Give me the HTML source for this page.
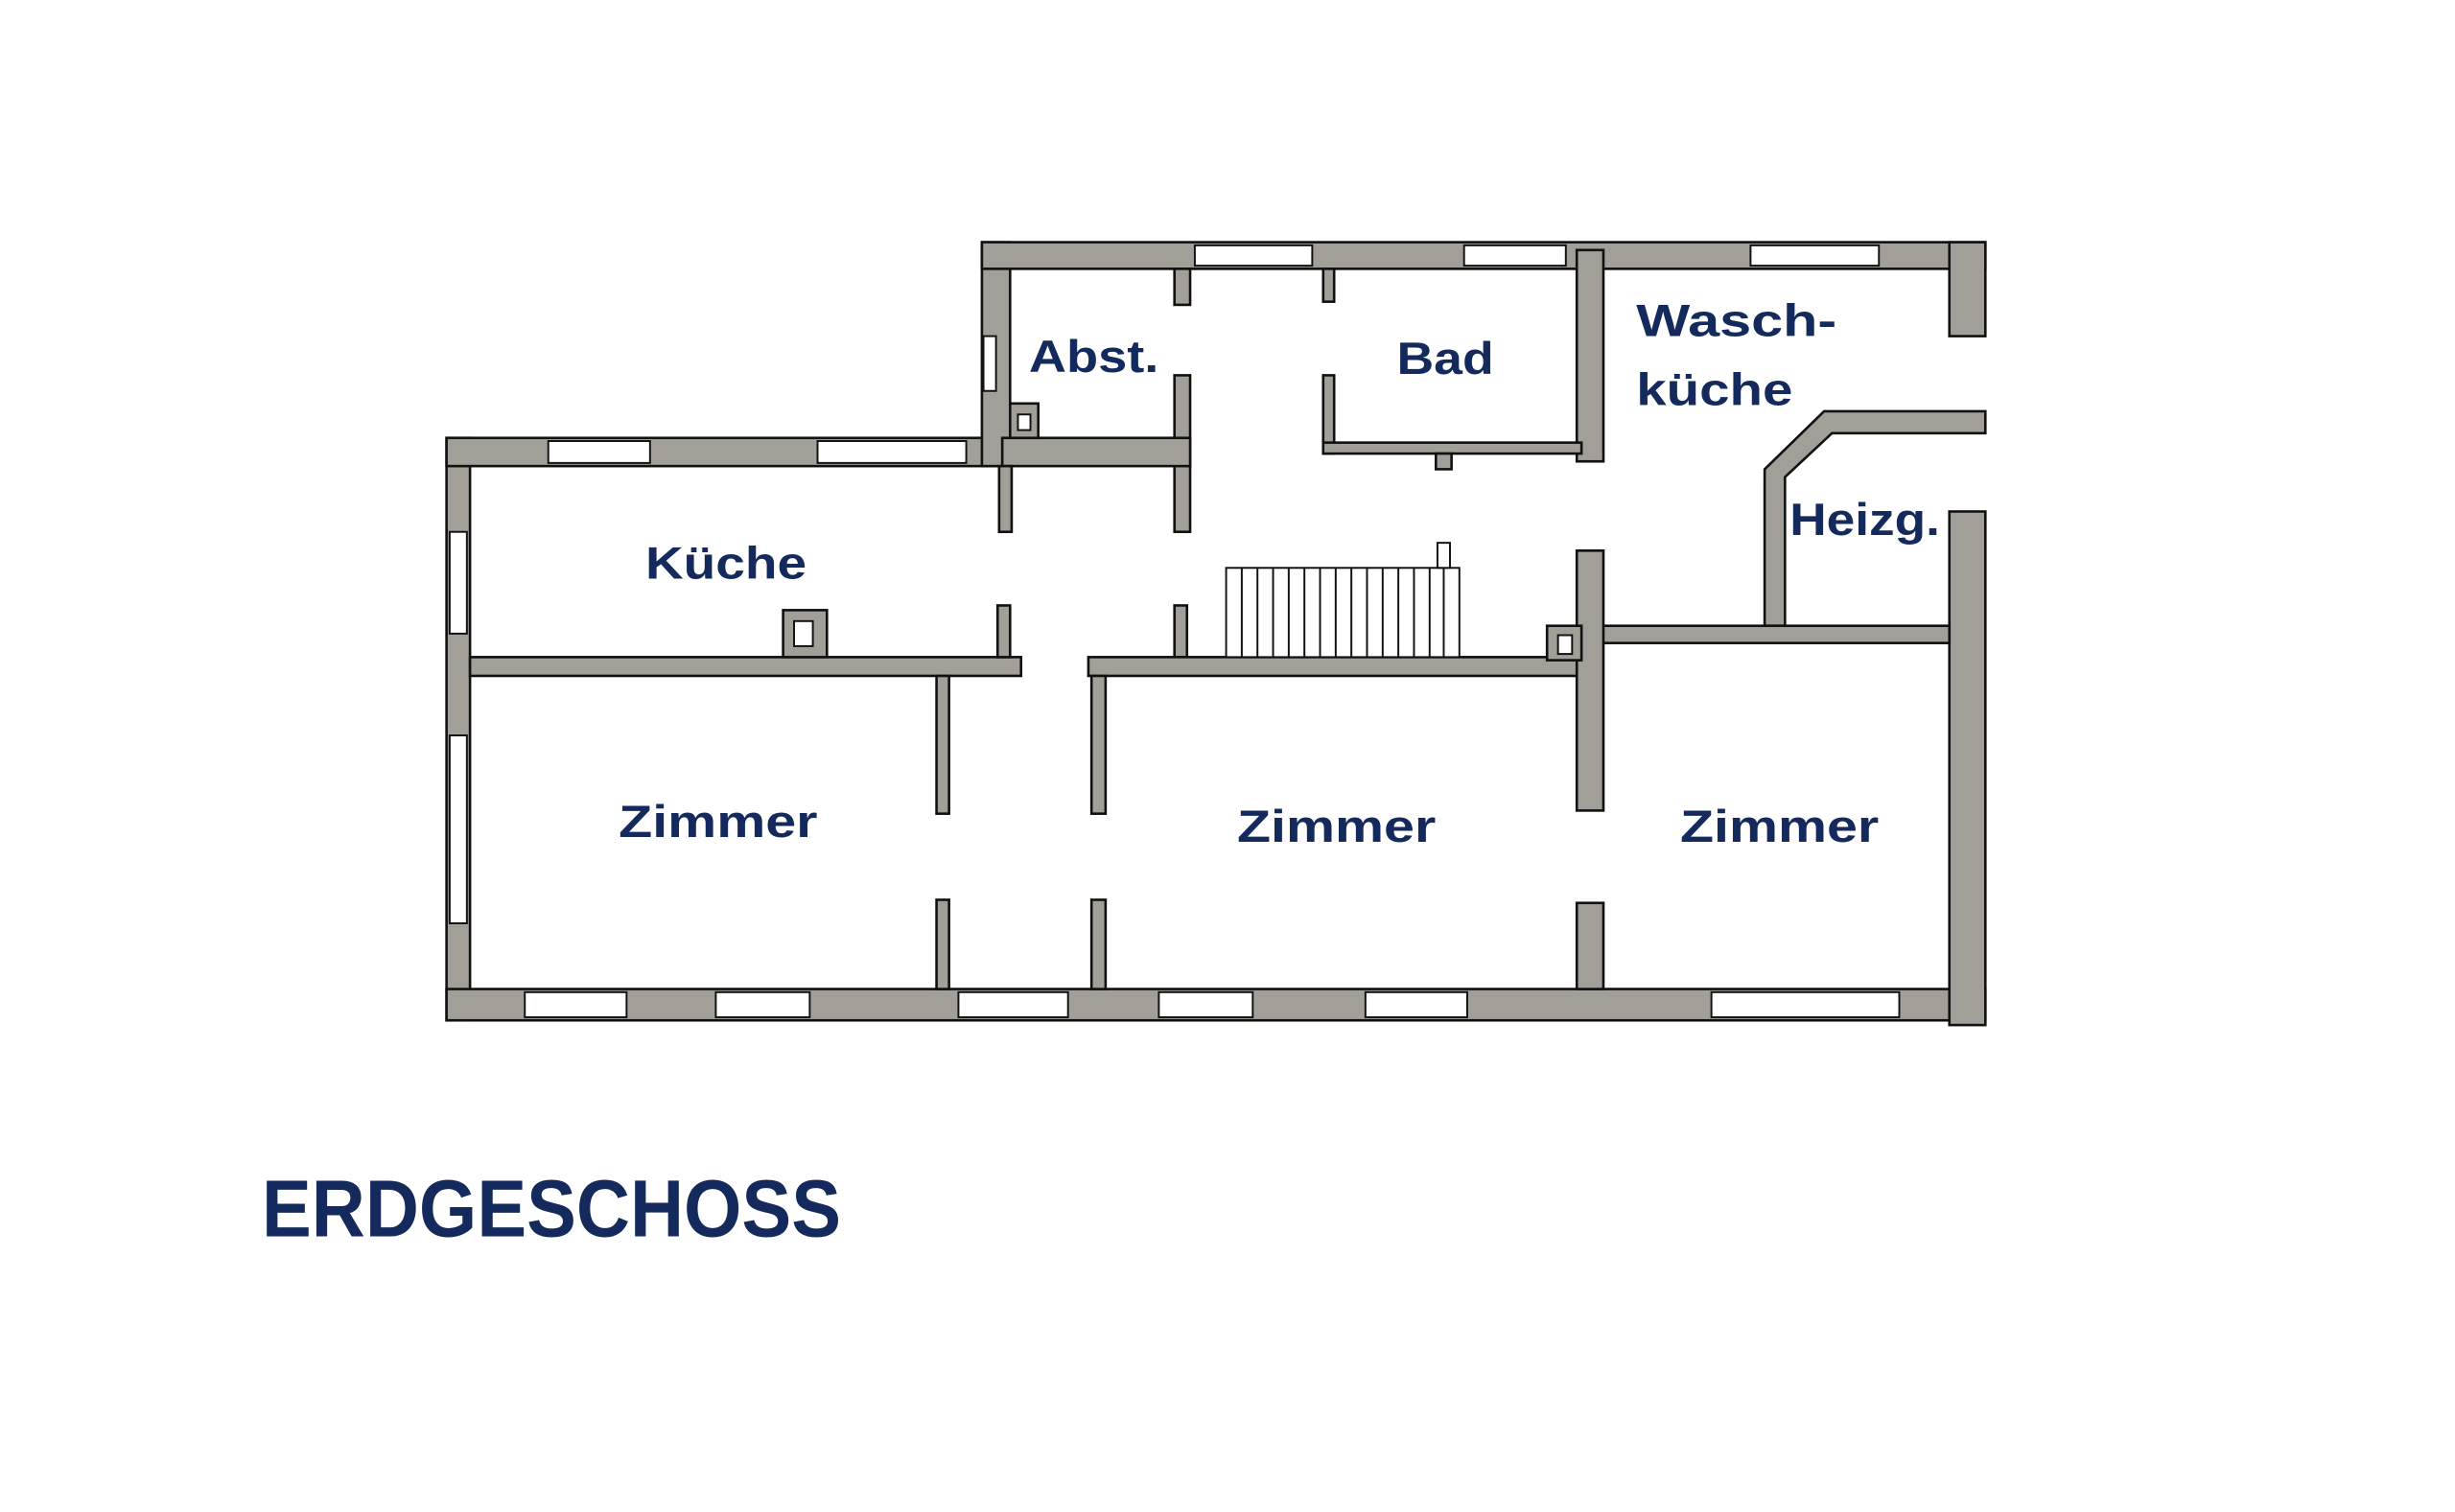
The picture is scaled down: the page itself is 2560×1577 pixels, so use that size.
<!DOCTYPE html>
<html><head><meta charset="utf-8"><style>
html,body{margin:0;padding:0;background:#fff;}
svg{display:block;}
text{font-family:"Liberation Sans",sans-serif;font-weight:bold;fill:#142a5c;}
.w{fill:#a19f98;stroke:#111;stroke-width:1.6;}
.win{fill:#fff;stroke:#111;stroke-width:1.2;}
</style></head><body>
<svg width="2560" height="1577" viewBox="0 0 2560 1577" xmlns="http://www.w3.org/2000/svg">
<g transform="matrix(1.6324 0 0 1.633 0.4 -0.5)">
<rect class="w" x="285" y="280" width="15" height="372"/>
<rect class="w" x="285" y="632" width="983" height="20"/>
<rect class="w" x="1245" y="327" width="23" height="328"/>
<rect class="w" x="285" y="280" width="360" height="18"/>
<rect class="w" x="627" y="155" width="18" height="143"/>
<rect class="w" x="627" y="155" width="641" height="17"/>
<rect class="w" x="1245" y="155" width="23" height="60"/>
<polygon class="w" points="1165,263 1268,263 1268,277 1170,277 1140,305 1140,400 1127,400 1127,300"/>
<rect class="w" x="1015" y="400" width="230" height="11"/>
<rect class="w" x="1007" y="160" width="17" height="135"/>
<rect class="w" x="845" y="240" width="7" height="50"/>
<rect class="w" x="845" y="283" width="165" height="7"/>
<rect class="w" x="917" y="290" width="10" height="10"/>
<rect class="w" x="750" y="240" width="10" height="100"/>
<rect class="w" x="640" y="280" width="120" height="18"/>
<rect class="w" x="750" y="172" width="10" height="23"/>
<rect class="w" x="845" y="172" width="7" height="21"/>
<rect class="w" x="645" y="258" width="18" height="22"/>
<rect class="win" x="650" y="265" width="8" height="10"/>
<rect class="w" x="638" y="298" width="8" height="42"/>
<rect class="w" x="300" y="420" width="352" height="12"/>
<rect class="w" x="637" y="387" width="8" height="33"/>
<rect class="w" x="750" y="387" width="8" height="33"/>
<rect class="w" x="500" y="390" width="28" height="30"/>
<rect class="win" x="507" y="397" width="12" height="16"/>
<rect class="w" x="695" y="420" width="315" height="12"/>
<rect class="w" x="1007" y="352" width="17" height="166"/>
<rect class="w" x="1007" y="577" width="17" height="55"/>
<rect class="w" x="988" y="400" width="22" height="22"/>
<rect class="win" x="995" y="406" width="9" height="12"/>
<rect class="w" x="598" y="432" width="8" height="88"/>
<rect class="w" x="598" y="575" width="8" height="57"/>
<rect class="w" x="697" y="432" width="9" height="88"/>
<rect class="w" x="697" y="575" width="9" height="57"/>
<g stroke="#111" stroke-width="1.2" fill="none">
<rect x="783" y="363" width="149" height="57" fill="#fff"/>
<line x1="793" y1="363" x2="793" y2="420"/><line x1="803" y1="363" x2="803" y2="420"/>
<line x1="813" y1="363" x2="813" y2="420"/><line x1="823" y1="363" x2="823" y2="420"/>
<line x1="833" y1="363" x2="833" y2="420"/><line x1="843" y1="363" x2="843" y2="420"/>
<line x1="853" y1="363" x2="853" y2="420"/><line x1="863" y1="363" x2="863" y2="420"/>
<line x1="873" y1="363" x2="873" y2="420"/><line x1="883" y1="363" x2="883" y2="420"/>
<line x1="893" y1="363" x2="893" y2="420"/><line x1="903" y1="363" x2="903" y2="420"/>
<line x1="913" y1="363" x2="913" y2="420"/><line x1="922" y1="363" x2="922" y2="420"/>
<rect x="918" y="347" width="8" height="16" fill="#fff"/>
</g>
<rect class="win" x="350" y="282" width="65" height="14"/>
<rect class="win" x="522" y="282" width="95" height="14"/>
<rect class="win" x="763" y="157" width="75" height="13"/>
<rect class="win" x="935" y="157" width="65" height="13"/>
<rect class="win" x="1118" y="157" width="82" height="13"/>
<rect class="win" x="628" y="215" width="8" height="35"/>
<rect class="win" x="287" y="340" width="11" height="65"/>
<rect class="win" x="287" y="470" width="11" height="120"/>
<rect class="win" x="335" y="634" width="65" height="16"/>
<rect class="win" x="457" y="634" width="60" height="16"/>
<rect class="win" x="612" y="634" width="70" height="16"/>
<rect class="win" x="740" y="634" width="60" height="16"/>
<rect class="win" x="872" y="634" width="65" height="16"/>
<rect class="win" x="1093" y="634" width="120" height="16"/>
<text x="657" y="238" font-size="29" textLength="83" lengthAdjust="spacingAndGlyphs">Abst.</text>
<text x="892" y="239" font-size="29" textLength="62" lengthAdjust="spacingAndGlyphs">Bad</text>
<text x="1045" y="215" font-size="29" textLength="128" lengthAdjust="spacingAndGlyphs">Wasch-</text>
<text x="1045" y="259" font-size="29" textLength="100" lengthAdjust="spacingAndGlyphs">küche</text>
<text x="412" y="370" font-size="29" textLength="103" lengthAdjust="spacingAndGlyphs">Küche</text>
<text x="1143" y="342" font-size="29" textLength="96" lengthAdjust="spacingAndGlyphs">Heizg.</text>
<text x="395" y="535" font-size="29" textLength="127" lengthAdjust="spacingAndGlyphs">Zimmer</text>
<text x="790" y="538" font-size="29" textLength="127" lengthAdjust="spacingAndGlyphs">Zimmer</text>
<text x="1073" y="538" font-size="29" textLength="127" lengthAdjust="spacingAndGlyphs">Zimmer</text>
<text x="167" y="790" font-size="52" textLength="370" lengthAdjust="spacingAndGlyphs">ERDGESCHOSS</text>
</g>
</svg>
</body></html>
